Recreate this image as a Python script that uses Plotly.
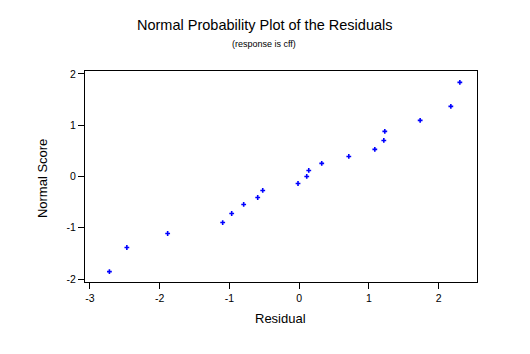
import plotly.graph_objects as go

residual = [-2.72, -2.47, -1.885, -1.096, -0.967, -0.795, -0.594, -0.522,
            -0.016, 0.109, 0.138, 0.324, 0.712, 1.085, 1.214, 1.228, 1.735, 2.175, 2.304]
normal_score = [-1.854, -1.385, -1.112, -0.898, -0.722, -0.546, -0.410, -0.273,
                -0.137, 0.0, 0.117, 0.254, 0.390, 0.527, 0.702, 0.878, 1.093, 1.366, 1.834]
x_ticks = [-3, -2, -1, 0, 1, 2]
x_tick_labels = ["-3", "-2", "-1", "0", "1", "2"]
y_ticks = [-2, -1, 0, 1, 2]
y_tick_labels = ["-2", "-1", "0", "1", "2"]

FONT = "Liberation Sans, Arial, sans-serif"

fig = go.Figure(go.Scatter(
    x=residual, y=normal_score, mode="markers",
    marker=dict(symbol="cross", size=4, color="#0000ff", line=dict(width=0)),
))

axis_common = dict(showline=True, linecolor="black", linewidth=1, mirror=True,
                   ticks="outside", ticklen=6, tickcolor="black", tickwidth=1,
                   showgrid=False, zeroline=False,
                   tickfont=dict(family=FONT, size=10.5, color="black"))

fig.update_xaxes(range=[-3.07, 2.55], tickvals=x_ticks, ticktext=x_tick_labels, **axis_common)
fig.update_yaxes(range=[-2.057, 2.055], tickvals=y_ticks, ticktext=y_tick_labels, **axis_common)

fig.update_layout(
    width=530, height=354,
    margin=dict(l=85, r=53, t=71, b=72),
    plot_bgcolor="white", paper_bgcolor="white",
    showlegend=False,
    annotations=[
        dict(text="Normal Probability Plot of the Residuals", xref="paper", yref="paper",
             x=(264 - 85) / 391.7, y=(281.7 - 25) / 210.7, xanchor="center", yanchor="middle",
             showarrow=False, font=dict(family=FONT, size=14.5, color="black")),
        dict(text="(response is cff)", xref="paper", yref="paper",
             x=(264 - 85) / 391.7, y=(281.7 - 44) / 210.7, xanchor="center", yanchor="middle",
             showarrow=False, font=dict(family=FONT, size=9, color="black")),
        dict(text="Residual", xref="paper", yref="paper",
             x=(280 - 85) / 391.7, y=(281.7 - 318) / 210.7, xanchor="center", yanchor="middle",
             showarrow=False, font=dict(family=FONT, size=13, color="black")),
        dict(text="Normal Score", xref="paper", yref="paper", textangle=-90,
             x=(42 - 85) / 391.7, y=(281.7 - 178) / 210.7, xanchor="center", yanchor="middle",
             showarrow=False, font=dict(family=FONT, size=13, color="black")),
    ],
)

fig.write_html("out.html")
